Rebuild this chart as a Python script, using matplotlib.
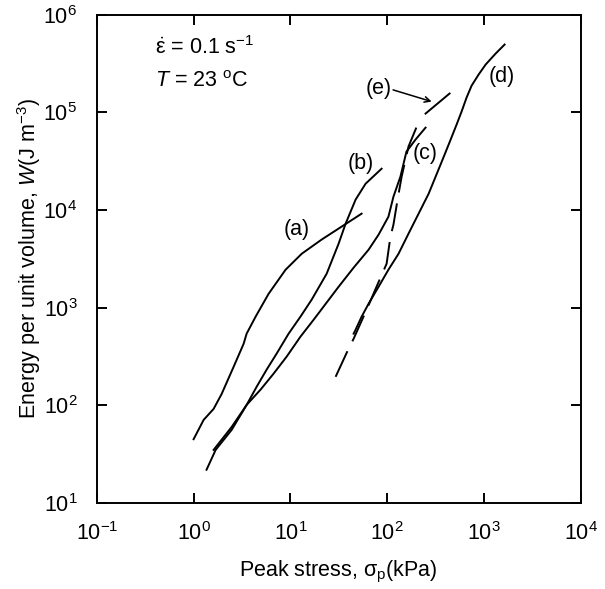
import matplotlib
matplotlib.use("Agg")
import matplotlib.pyplot as plt
import numpy as np
from matplotlib.ticker import LogLocator, NullLocator

plt.rcParams['font.family'] = ['Liberation Sans', 'DejaVu Sans']
plt.rcParams['mathtext.fontset'] = 'custom'
plt.rcParams['mathtext.rm'] = 'Liberation Sans'
plt.rcParams['mathtext.it'] = 'Liberation Sans:italic'
plt.rcParams['mathtext.bf'] = 'Liberation Sans:bold'

# curve data (stress in kPa, energy in J m^-3)
a_x = [1.00, 1.27, 1.61, 1.95, 2.59, 3.29, 3.53, 4.37, 5.96, 8.92, 13.1, 21.0, 33.8, 54.4]
a_y = [45, 71, 92, 131, 248, 428, 542, 809, 1390, 2450, 3570, 4980, 6760, 9180]

b_x = [1.36, 1.69, 2.47, 3.53, 4.48, 5.68, 7.20, 9.58, 12.7, 16.6, 23.7, 31.5, 37.2, 47.2,
       59.8, 87.5]
b_y = [21.9, 35, 56, 101, 155, 232, 338, 542, 809, 1210, 2230, 4530, 7260, 12800,
       18600, 26500]

c_x = [1.61, 2.47, 3.53, 4.92, 6.70, 9.14, 12.7, 17.4, 23.7, 31.5, 45.0, 64.3, 81.5, 103,
       116, 137, 158, 196, 249]
c_y = [35, 60, 101, 145, 211, 315, 505, 754, 1130, 1640, 2570, 3930, 5600, 8550,
       13700, 22000, 39600, 52600, 69800]

d_x = [45.0, 47.2, 54.4, 64.3, 81.5, 103, 131, 166, 211, 268, 332, 392, 452, 521, 587,
       661, 745, 880, 1040, 1318, 1633]
d_y = [542, 596, 809, 1100, 1640, 2450, 3570, 5730, 9180, 14700, 24700, 37000, 52600,
       75000, 102000, 142000, 188000, 244000, 309000, 400000, 495000]

e_x = [29.3, 39.9, 45.0, 61.3, 77.6, 98.6, 108, 116, 128, 141, 166, 206]
e_y = [196, 380, 481, 954, 1640, 2820, 5340, 7080, 12800, 22000, 44700, 75000]
e_top_x = [249, 441]
e_top_y = [97200, 156000]

labels = ['(a)', '(b)', '(c)', '(d)', '(e)']
label_x = [11.6, 53, 249, 1515, 81.5]
label_y = [6300, 29900, 37800, 233000, 175000]

fig = plt.figure(figsize=(6.05, 5.89), dpi=100)
ax = fig.add_axes([0.160, 0.146, 0.800, 0.829])

lw = 1.4
ax.plot(a_x, a_y, 'k-', lw=lw)
ax.plot(b_x, b_y, 'k-', lw=lw)
ax.plot(c_x, c_y, 'k-', lw=lw)
ax.plot(d_x, d_y, 'k-', lw=lw)
ax.plot(e_x, e_y, 'k-', lw=lw, dashes=(14.5, 5.7))
ax.plot(e_top_x, e_top_y, 'k-', lw=lw)

ax.set_xscale('log')
ax.set_yscale('log')
ax.set_xlim(1e-1, 1e4)
ax.set_ylim(1e1, 1e6)
ax.xaxis.set_major_locator(LogLocator(base=10, numticks=10))
ax.yaxis.set_major_locator(LogLocator(base=10, numticks=10))
ax.xaxis.set_minor_locator(NullLocator())
ax.yaxis.set_minor_locator(NullLocator())

fs = 15.5
ax.tick_params(axis='both', which='major', direction='in', length=7, width=1.4,
               top=True, right=True, labelsize=fs, pad=14)
for s in ax.spines.values():
    s.set_linewidth(1.4)

for lab, lx, ly in zip(labels, label_x, label_y):
    ax.text(lx, ly, lab, fontsize=fs, ha='center', va='center')

# arrow pointing at the (e) segment
ax.annotate('', xy=(288, 129000), xytext=(115, 170000),
            arrowprops=dict(arrowstyle='->', color='k', lw=1.1, shrinkA=0, shrinkB=0))

ax.text(0.12, 0.932, r'$\dot{\mathrm{\varepsilon}}$ = 0.1 s$^{-1}$', transform=ax.transAxes,
        fontsize=fs, va='center')
ax.text(0.12, 0.863, r'$T$ = 23 $^\mathrm{o}$C', transform=ax.transAxes, fontsize=fs, va='center')

ax.set_xlabel(r'Peak stress, σ$_\mathrm{p}$(kPa)', fontsize=fs, labelpad=10)
ax.set_ylabel(r'Energy per unit volume, $W$(J m$^{-3}$)', fontsize=fs, labelpad=0)

plt.savefig('out.png', dpi=100)
